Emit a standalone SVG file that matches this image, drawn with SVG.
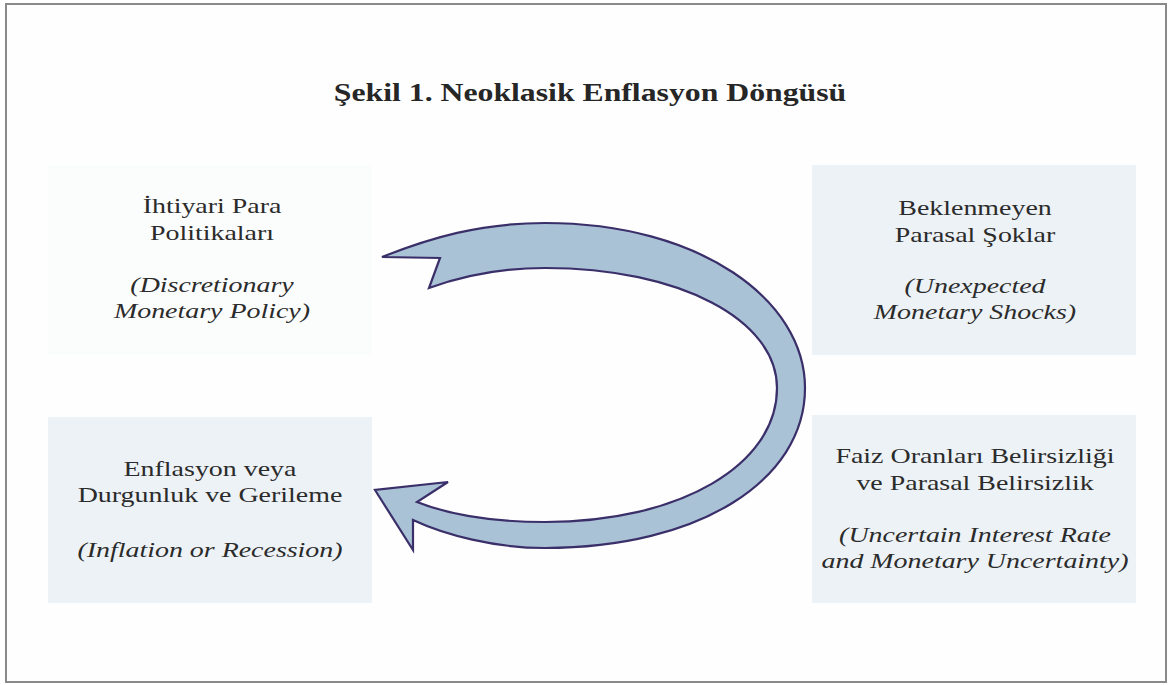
<svg xmlns="http://www.w3.org/2000/svg" width="1172" height="685" viewBox="0 0 1172 685">
<style>
.t{font-family:"Liberation Serif","Times New Roman",serif;font-size:22px;fill:#2b2b2b;text-anchor:middle}
.i{font-style:italic}
.title{font-family:"Liberation Serif","Times New Roman",serif;font-size:25px;font-weight:bold;fill:#262626;text-anchor:middle}
.box{fill:#edf2f6;stroke:none}
.box0{fill:#fbfcfc;stroke:none}
.arrow{fill:#a9c2d6;stroke:#3b2f6a;stroke-width:2.2;stroke-linejoin:miter}
</style>
<rect x="6" y="4" width="1160" height="678" fill="#fefefe" stroke="#8a8a8a" stroke-width="2"/>
<g id="title" transform="translate(590,0) scale(1.27,1)">
<text class="title" x="0" y="101">Şekil 1. Neoklasik Enflasyon Döngüsü</text>
</g>
<g id="node-discretionary">
<rect class="box0" x="48" y="165" width="324" height="190"/>
<g transform="translate(212,0) scale(1.27,1)">
<text class="t" x="0" y="213">İhtiyari Para</text>
<text class="t" x="0" y="240">Politikaları</text>
<text class="t i" x="0" y="292">(Discretionary</text>
<text class="t i" x="0" y="318">Monetary Policy)</text>
</g>
</g>
<g id="node-shocks">
<rect class="box" x="812" y="165" width="324" height="190"/>
<g transform="translate(975,0) scale(1.27,1)">
<text class="t" x="0" y="215">Beklenmeyen</text>
<text class="t" x="0" y="242">Parasal Şoklar</text>
<text class="t i" x="0" y="293">(Unexpected</text>
<text class="t i" x="0" y="319">Monetary Shocks)</text>
</g>
</g>
<g id="node-inflation">
<rect class="box" x="48" y="417" width="324" height="186"/>
<g transform="translate(210,0) scale(1.27,1)">
<text class="t" x="0" y="476">Enflasyon veya</text>
<text class="t" x="0" y="502">Durgunluk ve Gerileme</text>
<text class="t i" x="0" y="557">(Inflation or Recession)</text>
</g>
</g>
<g id="node-uncertainty">
<rect class="box" x="812" y="415" width="324" height="188"/>
<g transform="translate(975,0) scale(1.27,1)">
<text class="t" x="0" y="463">Faiz Oranları Belirsizliği</text>
<text class="t" x="0" y="490">ve Parasal Belirsizlik</text>
<text class="t i" x="0" y="542">(Uncertain Interest Rate</text>
<text class="t i" x="0" y="568">and Monetary Uncertainty)</text>
</g>
</g>
<g id="connectors">
<path class="arrow" d="M 382,257 C 430,238 480,223 545,223 C 700,223 805,300 805,388 C 805,480 700,548 545,548 C 495,548 445,535 413,520 L 413,550 L 375,490 L 448,482 L 417,502 C 450,515 495,522 545,522 C 680,522 777,465 777,388 C 777,320 680,268 545,268 C 500,268 465,275 429,288 L 440,258 Z"/>
</g>
</svg>
